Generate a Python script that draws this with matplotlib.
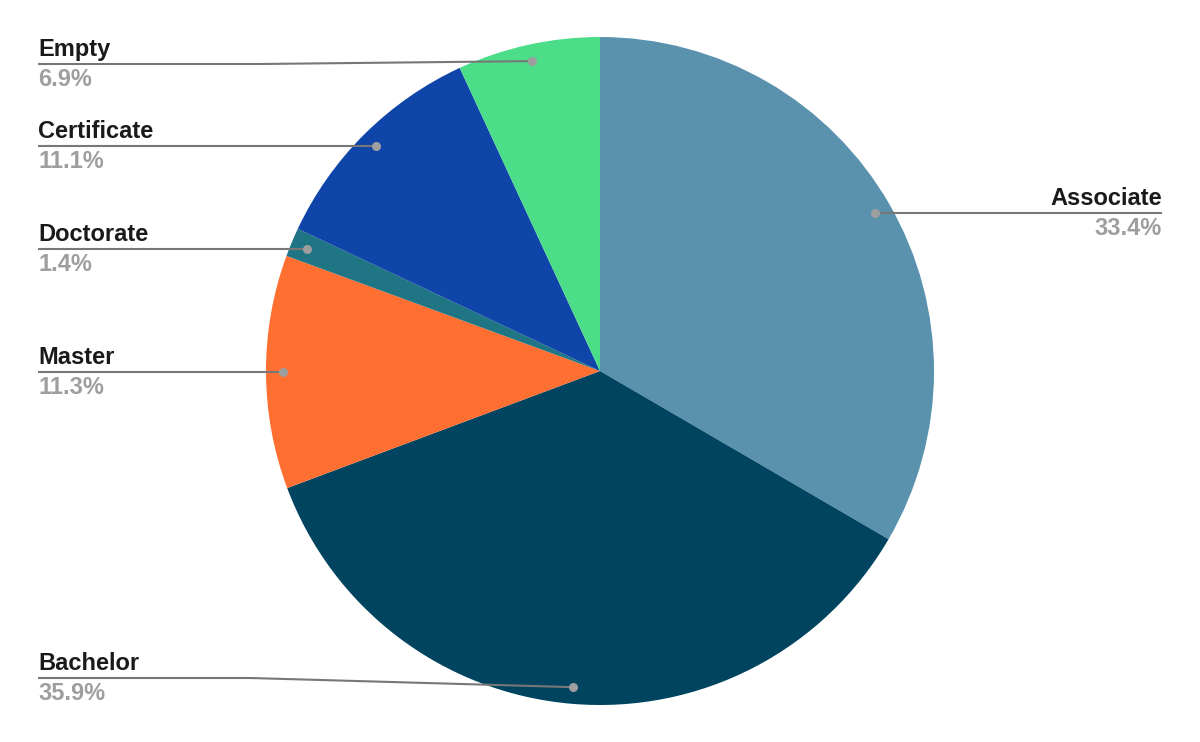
import numpy as np
import matplotlib
matplotlib.use("Agg")
import matplotlib.pyplot as plt

# Data (clockwise from top)
categories = ["Associate", "Bachelor", "Master", "Doctorate", "Certificate", "Empty"]
values = [33.4, 35.9, 11.3, 1.4, 11.1, 6.9]
colors = ["#5a92ae", "#00445f", "#ff6f31", "#1f7584", "#0f44a8", "#4cdd89"]

# Layout (pixel coordinates)
W, H = 1200, 742
CX, CY, R = 600, 371, 334
DOT_R = 0.95 * R
label_side = {"Associate": "right", "Bachelor": "left", "Master": "left",
              "Doctorate": "left", "Certificate": "left", "Empty": "left"}
label_line_y = {"Bachelor": 678, "Empty": 64}
elbow_x = {"Bachelor": 250, "Empty": 260}
LEFT_X, RIGHT_X = 38, 1162
FS = 17

plt.rcParams['font.family'] = ['Liberation Sans', 'DejaVu Sans']

fig = plt.figure(figsize=(W / 100, H / 100), dpi=100)
ax = fig.add_axes([0, 0, 1, 1])

ax.pie(values, colors=colors, startangle=-90, counterclock=True,
       center=(CX, CY), radius=R, frame=True,
       wedgeprops=dict(linewidth=0))
ax.set_xlim(0, W)
ax.set_ylim(H, 0)
ax.set_aspect("equal")
ax.axis("off")

total = sum(values)
cum = 0.0
for cat, v in zip(categories, values):
    mid = (cum + v / 2) / total
    cum += v
    ang = 2 * np.pi * mid  # clockwise from top
    px = CX + DOT_R * np.sin(ang)
    py = CY - DOT_R * np.cos(ang)
    ly = label_line_y.get(cat, py)
    if label_side[cat] == "left":
        xs, ys = [LEFT_X], [ly]
        if cat in elbow_x:
            xs.append(elbow_x[cat]); ys.append(ly)
        xs.append(px); ys.append(py)
        tx, ha = LEFT_X, "left"
    else:
        xs, ys = [px, RIGHT_X], [py, ly]
        tx, ha = RIGHT_X, "right"
    ax.plot(xs, ys, color="#777777", lw=1.5, solid_capstyle="butt", zorder=3)
    ax.plot([px], [py], "o", color="#9e9e9e", ms=6.5, mec="none", zorder=4)
    ax.text(tx, ly - 8, cat, ha=ha, va="baseline", fontsize=FS,
            fontweight="bold", color="#1a1a1a")
    ax.text(tx, ly + 22, f"{v:.1f}%", ha=ha, va="baseline", fontsize=FS,
            fontweight="bold", color="#9e9e9e")

fig.savefig("out.png", dpi=100)
